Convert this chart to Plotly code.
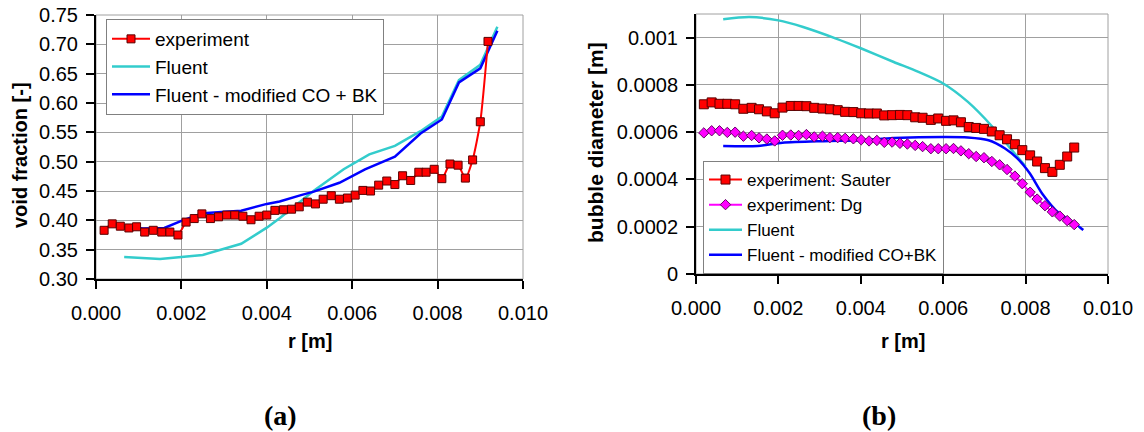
import plotly.graph_objects as go

# ---------------- (a) void fraction ----------------
r_exp_a = [0.00019, 0.00038, 0.00057, 0.00077, 0.00095, 0.00114, 0.00134, 0.00154, 0.00173, 0.00192,
           0.00211, 0.00230, 0.00248, 0.00268, 0.00287, 0.00306, 0.00325, 0.00344, 0.00363, 0.00382,
           0.00400, 0.00419, 0.00439, 0.00458, 0.00476, 0.00495, 0.00514, 0.00532, 0.00551, 0.00570,
           0.00589, 0.00607, 0.00625, 0.00643, 0.00662, 0.00681, 0.00700, 0.00718, 0.00737, 0.00756,
           0.00773, 0.00792, 0.00810, 0.00829, 0.00848, 0.00865, 0.00882, 0.00900, 0.00918]
void_exp = [0.383, 0.394, 0.390, 0.387, 0.389, 0.380, 0.383, 0.380, 0.380, 0.375,
            0.397, 0.403, 0.411, 0.403, 0.406, 0.409, 0.409, 0.407, 0.401, 0.407,
            0.409, 0.417, 0.418, 0.419, 0.423, 0.431, 0.428, 0.436, 0.442, 0.436,
            0.438, 0.443, 0.451, 0.450, 0.460, 0.467, 0.461, 0.476, 0.468, 0.482,
            0.482, 0.487, 0.471, 0.496, 0.494, 0.472, 0.503, 0.568, 0.705]

r_fl_a = [0.00066, 0.0015, 0.0020, 0.0025, 0.0034, 0.0040, 0.0043, 0.0051, 0.0058, 0.0064,
          0.0070, 0.0076, 0.0081, 0.0085, 0.0090, 0.0094]
void_fl = [0.3375, 0.334, 0.3375, 0.341, 0.360, 0.3875, 0.4035, 0.4505, 0.487, 0.5125,
           0.527, 0.552, 0.577, 0.639, 0.665, 0.730]

r_mod_a = [0.00066, 0.0011, 0.0016, 0.0020, 0.0025, 0.0034, 0.0040, 0.0043, 0.0048, 0.0051,
           0.0057, 0.0063, 0.0070, 0.0076, 0.0081, 0.0085, 0.0090, 0.0094]
void_mod = [0.389, 0.386, 0.387, 0.399, 0.412, 0.4165, 0.428, 0.432, 0.443, 0.449,
            0.464, 0.487, 0.5085, 0.548, 0.572, 0.635, 0.659, 0.723]

# ---------------- (b) bubble diameter ----------------
r_exp_b = [0.00019, 0.00038, 0.00057, 0.00076, 0.00095, 0.00115, 0.00135, 0.00153, 0.00172, 0.00191,
           0.00210, 0.00230, 0.00249, 0.00268, 0.00287, 0.00307, 0.00325, 0.00344, 0.00362, 0.00382,
           0.00401, 0.00420, 0.00439, 0.00457, 0.00476, 0.00495, 0.00513, 0.00532, 0.00550, 0.00570,
           0.00588, 0.00607, 0.00625, 0.00643, 0.00662, 0.00680, 0.00699, 0.00718, 0.00737, 0.00755,
           0.00774, 0.00792, 0.00811, 0.00828, 0.00847, 0.00865, 0.00883, 0.00901, 0.00918]
d_sauter = [7.18, 7.26, 7.20, 7.20, 7.18, 6.99, 7.03, 6.97, 6.88, 6.80,
            7.04, 7.11, 7.11, 7.10, 7.03, 7.00, 6.97, 6.93, 6.86, 6.85,
            6.80, 6.79, 6.79, 6.71, 6.72, 6.73, 6.72, 6.63, 6.61, 6.52,
            6.58, 6.48, 6.50, 6.42, 6.22, 6.18, 6.14, 6.03, 5.87, 5.70,
            5.49, 5.24, 5.02, 4.76, 4.48, 4.32, 4.62, 4.97, 5.35]
d_dg = [5.97, 6.06, 6.06, 5.99, 6.00, 5.83, 5.86, 5.76, 5.71, 5.63,
        5.87, 5.88, 5.86, 5.90, 5.80, 5.83, 5.77, 5.77, 5.74, 5.72,
        5.68, 5.63, 5.65, 5.57, 5.58, 5.53, 5.50, 5.44, 5.39, 5.30,
        5.30, 5.30, 5.31, 5.21, 5.09, 4.97, 4.92, 4.76, 4.62, 4.42,
        4.14, 3.82, 3.46, 3.17, 2.89, 2.63, 2.45, 2.26, 2.09]

r_fl_b = [0.00066, 0.0013, 0.0020, 0.0026, 0.0034, 0.0040, 0.0048, 0.0054, 0.0060, 0.0066,
          0.0072, 0.0076, 0.0080]
d_fl = [10.78, 10.87, 10.73, 10.45, 9.96, 9.55, 8.97, 8.55, 8.06, 7.28,
        6.22, 5.38, 4.55]

r_mod_b = [0.00066, 0.0015, 0.0021, 0.0031, 0.0040, 0.0048, 0.0060, 0.0066, 0.0071, 0.0075,
           0.0078, 0.0081, 0.0084, 0.0088, 0.0092, 0.0094]
d_mod = [5.42, 5.42, 5.55, 5.62, 5.66, 5.75, 5.80, 5.78, 5.66, 5.31,
         4.89, 4.26, 3.41, 2.59, 2.14, 1.86]

x_ticks = [0.000, 0.002, 0.004, 0.006, 0.008, 0.010]
x_ticktext = ["0.000", "0.002", "0.004", "0.006", "0.008", "0.010"]
ya_ticks = [0.30, 0.35, 0.40, 0.45, 0.50, 0.55, 0.60, 0.65, 0.70, 0.75]
ya_ticktext = ["0.30", "0.35", "0.40", "0.45", "0.50", "0.55", "0.60", "0.65", "0.70", "0.75"]
yb_ticks = [0, 0.0002, 0.0004, 0.0006, 0.0008, 0.001]
yb_ticktext = ["0", "0.0002", "0.0004", "0.0006", "0.0008", "0.001"]

W, H = 1144, 432
FONT = "Liberation Sans, Arial, sans-serif"
RED, MAG, CYAN, BLUE = "#FF0000", "#FF00FF", "#33CCCC", "#0000FF"

# panel boxes in pixels
AX0, AX1, AY0, AY1 = 96, 523, 15, 279
BX0, BX1, BY0, BY1 = 696, 1108, 14, 274

fig = go.Figure()

fig.add_trace(go.Scatter(x=r_fl_a, y=void_fl, mode="lines", name="Fluent", legendrank=2,
                         line=dict(color=CYAN, width=2.5), xaxis="x", yaxis="y", legend="legend"))
fig.add_trace(go.Scatter(x=r_mod_a, y=void_mod, mode="lines", name="Fluent - modified CO + BK",
                         legendrank=3, line=dict(color=BLUE, width=2.5),
                         xaxis="x", yaxis="y", legend="legend"))
fig.add_trace(go.Scatter(x=r_exp_a, y=void_exp, mode="lines+markers", name="experiment",
                         legendrank=1,
                         line=dict(color=RED, width=2, shape="spline", smoothing=0.6),
                         marker=dict(symbol="square", size=8, color=RED,
                                     line=dict(color="#5A0000", width=1)),
                         xaxis="x", yaxis="y", legend="legend"))

fig.add_trace(go.Scatter(x=r_fl_b, y=[v * 1e-4 for v in d_fl], mode="lines", name="Fluent",
                         legendrank=3,
                         line=dict(color=CYAN, width=2.5, shape="spline", smoothing=0.8),
                         xaxis="x2", yaxis="y2", legend="legend2"))
fig.add_trace(go.Scatter(x=r_mod_b, y=[v * 1e-4 for v in d_mod], mode="lines",
                         name="Fluent - modified CO+BK", legendrank=4,
                         line=dict(color=BLUE, width=2.5, shape="spline", smoothing=0.8),
                         xaxis="x2", yaxis="y2", legend="legend2"))
fig.add_trace(go.Scatter(x=r_exp_b, y=[v * 1e-4 for v in d_dg], mode="lines+markers",
                         name="experiment: Dg", legendrank=2,
                         line=dict(color=MAG, width=2, shape="spline", smoothing=0.6),
                         marker=dict(symbol="diamond", size=8, color=MAG,
                                     line=dict(color="#660066", width=1)),
                         xaxis="x2", yaxis="y2", legend="legend2"))
fig.add_trace(go.Scatter(x=r_exp_b, y=[v * 1e-4 for v in d_sauter], mode="lines+markers",
                         name="experiment: Sauter", legendrank=1,
                         line=dict(color=RED, width=2, shape="spline", smoothing=0.6),
                         marker=dict(symbol="square", size=9, color=RED,
                                     line=dict(color="#5A0000", width=1)),
                         xaxis="x2", yaxis="y2", legend="legend2"))

axis_common = dict(showgrid=True, gridcolor="#A0A0A0", gridwidth=1, zeroline=False,
                   showline=True, linecolor="black", linewidth=2, ticks="outside",
                   ticklen=8, tickwidth=2, tickcolor="black", automargin=False,
                   tickfont=dict(family=FONT, size=20, color="black"))

fig.update_layout(
    width=W, height=H,
    margin=dict(l=0, r=0, t=0, b=0),
    paper_bgcolor="white", plot_bgcolor="white",
    xaxis=dict(axis_common, domain=[AX0 / W, AX1 / W], range=[0, 0.010], anchor="y",
               tickvals=x_ticks, ticktext=x_ticktext, ticklabelstandoff=7),
    yaxis=dict(axis_common, domain=[1 - AY1 / H, 1 - AY0 / H], range=[0.30, 0.75], anchor="x",
               tickvals=ya_ticks, ticktext=ya_ticktext, ticklabelstandoff=4),
    xaxis2=dict(axis_common, domain=[BX0 / W, BX1 / W], range=[0, 0.010], anchor="y2",
                tickvals=x_ticks, ticktext=x_ticktext, ticklabelstandoff=7),
    yaxis2=dict(axis_common, domain=[1 - BY1 / H, 1 - BY0 / H], range=[0, 0.0011], anchor="x2",
                tickvals=yb_ticks, ticktext=yb_ticktext, ticklabelstandoff=4),
    legend=dict(x=106 / W, y=1 - 19 / H, xanchor="left", yanchor="top",
                bgcolor="white", bordercolor="#808080", borderwidth=1,
                font=dict(family=FONT, size=19, color="black"),
                traceorder="normal", itemwidth=38),
    legend2=dict(x=703 / W, y=1 - 161 / H, xanchor="left", yanchor="top",
                 bgcolor="white", bordercolor="#808080", borderwidth=1,
                 font=dict(family=FONT, size=17, color="black"),
                 traceorder="normal", itemwidth=33),
    showlegend=True,
)

# light frame on the top and right of each panel
for xr, yr in (("x domain", "y domain"), ("x2 domain", "y2 domain")):
    fig.add_shape(type="rect", xref=xr, yref=yr, x0=0, x1=1, y0=0, y1=1,
                  line=dict(color="#A0A0A0", width=1), layer="below")

titles = [
    dict(text="<b>void fraction [-]</b>", x=20, y=155, angle=-90, size=20),
    dict(text="<b>bubble diameter [m]</b>", x=595, y=143, angle=-90, size=21),
    dict(text="<b>r [m]</b>", x=310, y=341, angle=0, size=20),
    dict(text="<b>r [m]</b>", x=903, y=341, angle=0, size=20),
]
for t in titles:
    fig.add_annotation(text=t["text"], x=t["x"] / W, y=1 - t["y"] / H, xref="paper", yref="paper",
                       xanchor="center", yanchor="middle", textangle=t["angle"], showarrow=False,
                       font=dict(family=FONT, size=t["size"], color="black"))

for lbl, cx in (("(a)", 280), ("(b)", 879)):
    fig.add_annotation(text=f"<b>{lbl}</b>", x=cx / W, y=1 - 415 / H, xref="paper", yref="paper",
                       xanchor="center", yanchor="middle", showarrow=False,
                       font=dict(family="Liberation Serif, Times New Roman, serif", size=28,
                                 color="black"))

fig.write_html("out.html")
